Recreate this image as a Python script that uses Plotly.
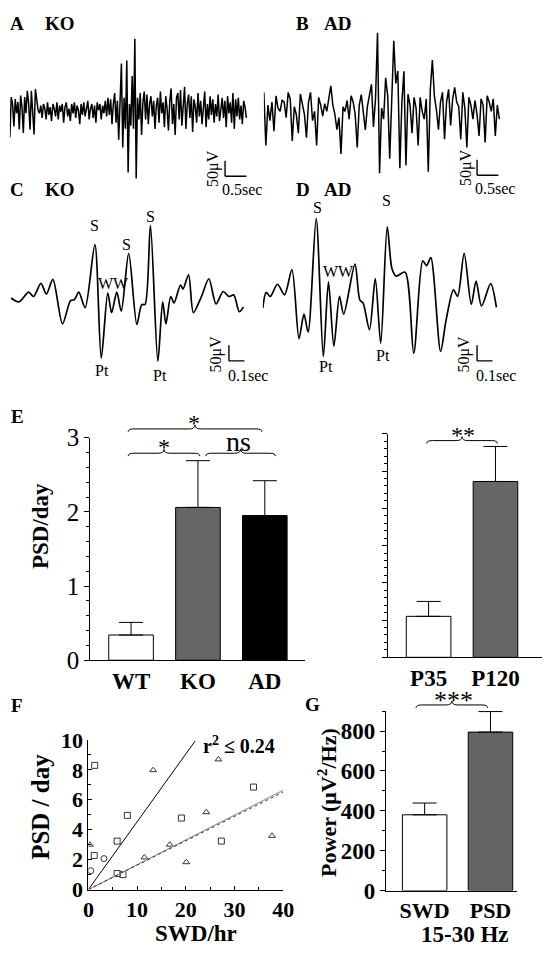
import numpy as np
import plotly.graph_objects as go

W, H = 553, 958
SERIF = "Liberation Serif, Times New Roman, serif"

# ---------------- data ----------------
TRACE_A_UV = [-88, 42, 20, -52, 36, -10, 26, -62, 47, 10, -73, 42, -10, 62, 20, -62, 62, -20, -78, 68, 30, 0, -10, 15,
              -25, 20, 5, -30, 25, -15, 10, -35, 20, 5,
              -20, 25, -30, 15, -5, 20, -40, 10, 25, -20, 5, -35, 20, -10, 25, -25, 15, 0, -45, 20, -15, 25, -20, 10,
              30, -30, 5, 20, -25, 15, -40, 25, 0, 20, -30, 15, -10, 30, -20, 40, -15, 35, -45, 20, 55,
              -40, 30, -95, 60, 150, -120, 40, -60, 160, -200, 20, -50, 110, -60, 230, -220, 40, -30, 55, -80, 25, 60,
              -30, 50, -45, 20, 45, -20, 30, -60, 15, 40, -40, 60, -10, 25, -55, 45, 5, -65, 30, 70, -45, 20, -80, 40,
              55, -30, 65, -50, 15, 75, -60, 20, 50, -25, 45, -70, 35, 10, -40, 55, -20, 30, -45, 25, 60, -55, 20, -30,
              45, -15, 35, -40, 20, -20, 50, -35, 15, 40, -25, 30, -55, 45, -10, 25, -40, 55, -60, 35, -20, 40, -30, 15,
              -45, 30, 10, -25]
TRACE_B_UV = [51, -120, 10, -40, 20, -74, 40, 0, -10, 25, 20, -30, 51, 30, -105, 5, -20, -80, 46, 10, -20, -95, 20, 51,
              -40, -10, -120, 35, 10, -25, 15, -10, 40, 72, 10, -20, -69, -30, -147, 5, -10, 25, -35, 40, 20, -20,
              -126, 10, 44, -20, -70, 5, 40, 77, -60, 30, 243, -209, 0, -35, 98, 40, -162, 60, 217, 80, 120, -193, 20,
              119, -183, 45, 10, -80, 35, 0, -120, 35, -10, -35, 30, -204, 60, 155, 40, -5, -69, 20, 51, -100, 20, 61,
              -55, 30, 67, 20, 5, -100, 51, 0, -126, 35, 10, -35, 25, -20, -89, 30, 10, -110, 40, 20, -10, 30, -89, 10,
              -35]
TRACE_C_T = [0, .052, .115, .146, .194, .229, .271, .333, .385, .41, .438, .479, .542, .583, .625, .65, .683, .712, .76,
             .8125, .844, .865, .9, .948, .979, 1.0, 1.031, 1.052, 1.094, 1.11, 1.146, 1.177, 1.229, 1.277, 1.323, 1.369,
             1.406, 1.4375, 1.473, 1.5]
TRACE_C_UV = [-1, -13, 18, 4, 46, 12, 59, -84, -9, -6, 18, -32, 171, -194, 15, -48, 18, -43, 143, -86, -22, -22, 233,
              -204, -13, -84, 4, -17, 41, 28, 74, -48, 4, 61, -20, 20, 4, 9, -45, -30]
TRACE_D_T = [0, .021, .048, .094, .14, .1875, .233, .265, .292, .344, .39, .423, .458, .494, .521, .594, .625, .646,
             .6875, .725, .76, .802, .833, .86, .917, .973, 1.031, 1.056, 1.083, 1.146, 1.181, 1.229, 1.256, 1.298, 1.344,
             1.375, 1.41, 1.469, 1.506]
TRACE_D_UV = [-42, 8, -5, 34, 0, 81, -141, -62, -120, 245, -198, 42, -165, -5, -62, 99, -16, -26, -112, 52, -156, 219,
              83, 60, 73, -188, 109, 94, 120, -182, -83, 16, -5, 133, -31, 44, -36, 36, -40]

E_GROUPS = ["WT", "KO", "AD"]
E_MEAN = [0.34, 2.06, 1.95]
E_SEM = [0.17, 0.63, 0.47]
E_COLORS = ["white", "#666666", "black"]

AGE_GROUPS = ["P35", "P120"]
AGE_MEAN = [0.55, 2.36]
AGE_SEM = [0.20, 0.47]
AGE_COLORS = ["white", "#666666"]

F_SQ_X = [1.3, 1.2, 5.9, 8.0, 5.9, 7.1, 19.1, 27.3, 33.9]
F_SQ_Y = [8.3, 2.28, 3.24, 4.96, 1.07, 1.0, 4.78, 3.24, 6.85]
F_TRI_X = [0.3, 13.3, 26.7, 24.2, 11.5, 16.7, 20.1, 37.7]
F_TRI_Y = [3.0, 7.98, 8.7, 5.17, 2.15, 3.0, 1.83, 3.59]
F_CIR_X = [0.5, 3.2]
F_CIR_Y = [1.26, 2.07]
FIT_X_END = [21.9, 40, 40]
FIT_SLOPE = [0.453, 0.166, 0.163]

G_GROUPS = ["SWD", "PSD"]
G_MEAN = [380, 795]
G_SEM = [59, 103]
G_COLORS = ["white", "#646464"]

# ---------------- helpers ----------------
PX_PER_UV = 16 / 50.0


def dx(a, b):
    return [a / W, b / W]


def dy(top, bot):
    return [1 - bot / H, 1 - top / H]


def px(x):
    return x / W


def py(y):
    return 1 - y / H


fig = go.Figure()
annotations = []
shapes = []


def ann(text, x, y, size, bold=False, angle=0, xanchor="center"):
    annotations.append(dict(text=text, x=px(x), y=py(y), xref="paper", yref="paper", showarrow=False,
                            xanchor=xanchor, yanchor="middle", textangle=angle, borderpad=0,
                            font=dict(family=SERIF, size=size, color="black", weight="bold" if bold else "normal")))


layout = dict(width=W, height=H, margin=dict(l=0, r=0, t=0, b=0), paper_bgcolor="white",
              plot_bgcolor="white", showlegend=False)

# ---- EEG traces ----
trace_panels = [
    (TRACE_A_UV, None, 4, 248, 252, 18, 180, 100, 44, (226, 168), 0.5),
    (TRACE_B_UV, None, 266, 509, 513, 12, 180, 98, 44, (486, 167), 0.5),
    (TRACE_C_UV, TRACE_C_T, 5, 246, 250, 190, 385, 293, 160, (230, 358), 0.1),
    (TRACE_D_UV, TRACE_D_T, 265, 506, 512, 185, 385, 290, 160, (486, 358), 0.1),
]
for i, (vals, times, x0, x1, x1d, ytop, ybot, base, pps, corner, bar_s) in enumerate(trace_panels, start=1):
    if times is None:
        times = np.linspace(0, (x1 - x0) / pps, len(vals))
        shape = "linear"
        lw = 1.5
    else:
        shape = "spline"
        lw = 1.7
    xa = "x" if i == 1 else f"x{i}"
    ya = "y" if i == 1 else f"y{i}"
    fig.add_trace(go.Scatter(x=list(times), y=vals, mode="lines", xaxis=xa, yaxis=ya,
                             line=dict(color="black", width=lw, shape=shape, smoothing=0.8)))
    layout[f"xaxis{'' if i == 1 else i}"] = dict(domain=dx(x0, x1d), range=[0, (x1d - x0) / pps], visible=False,
                                                   anchor=ya)
    layout[f"yaxis{'' if i == 1 else i}"] = dict(domain=dy(ytop, ybot),
                                                   range=[(base - ybot) / PX_PER_UV, (base - ytop) / PX_PER_UV],
                                                   visible=False, anchor=xa)
    ct = (corner[0] - x0) / pps
    cv = (base - corner[1]) / PX_PER_UV
    shapes.append(dict(type="line", xref=xa, yref=ya, x0=ct, x1=ct, y0=cv, y1=cv + 50,
                       line=dict(color="black", width=1.4)))
    shapes.append(dict(type="line", xref=xa, yref=ya, x0=ct, x1=ct + bar_s, y0=cv, y1=cv,
                       line=dict(color="black", width=1.4)))

# scale bar texts
for cx, cy in [(226, 168), (486, 167)]:
    ann("50μV", cx - 12, cy - 8, 16, angle=-90)
    ann("0.5sec", cx + 18, cy + 14, 16)
for cx, cy in [(230, 358), (486, 358)]:
    ann("50μV", cx - 13, cy - 7, 16, angle=-90)
    ann("0.1sec", cx + 20, cy + 15, 16)

# panel labels
ann("A", 3, 11, 19, bold=True, xanchor="left")
ann("KO", 39, 11, 19, bold=True, xanchor="left")
ann("B", 298, 11, 19, bold=True, xanchor="left")
ann("AD", 327, 11, 19, bold=True, xanchor="left")
ann("C", 3, 182, 19, bold=True, xanchor="left")
ann("KO", 39, 182, 19, bold=True, xanchor="left")
ann("D", 298, 182, 19, bold=True, xanchor="left")
ann("AD", 327, 182, 19, bold=True, xanchor="left")
ann("E", 4, 415, 19, bold=True, xanchor="left")
ann("F", 4, 713, 19, bold=True, xanchor="left")
ann("G", 307, 712, 19, bold=True, xanchor="left")

# waveform labels
for t, x, y in [("S", 91, 219), ("S", 124, 238), ("S", 149, 209), ("WW", 111, 278), ("Pt", 99, 368), ("Pt", 159, 373),
                ("S", 321, 200), ("S", 393, 193), ("WW", 343, 266), ("Pt", 330, 364), ("Pt", 389, 352)]:
    ann(t, x, y, 16)

# ---- E left bars ----
bar_axis_font = dict(family=SERIF, size=23, color="black", weight="bold")
fig.add_trace(go.Bar(x=E_GROUPS, y=E_MEAN, xaxis="x5", yaxis="y5", width=0.667,
                     marker=dict(color=E_COLORS, line=dict(color="black", width=1)),
                     error_y=dict(type="data", symmetric=False, array=E_SEM, arrayminus=[0] * len(E_SEM),
                                  color="black", thickness=1, width=12)))
layout["xaxis5"] = dict(domain=dx(87, 308), type="category", range=[-0.609, 2.594], anchor="y5", showline=True,
                        linecolor="black", linewidth=1, ticks="", tickfont=bar_axis_font, showgrid=False,
                        zeroline=False, fixedrange=True)
layout["yaxis5"] = dict(domain=dy(437, 666), range=[0, 3], anchor="x5", showline=True, linecolor="black",
                        linewidth=1, ticks="outside", ticklen=5, tickcolor="black", tickmode="linear", tick0=0,
                        dtick=1, tickfont=dict(family=SERIF, size=25, color="black"), showgrid=False,
                        zeroline=False, minor=dict(dtick=0.2, ticks="outside", ticklen=3, tickcolor="black"))
ann("PSD/day", 35, 528, 23, bold=True, angle=-90)

# ---- E right bars ----
fig.add_trace(go.Bar(x=AGE_GROUPS, y=AGE_MEAN, xaxis="x6", yaxis="y6", width=0.667,
                     marker=dict(color=AGE_COLORS, line=dict(color="black", width=1)),
                     error_y=dict(type="data", symmetric=False, array=AGE_SEM, arrayminus=[0] * len(AGE_SEM),
                                  color="black", thickness=1, width=12)))
layout["xaxis6"] = dict(domain=dx(394, 553), type="category", range=[-0.609, 1.696], anchor="y6", showline=True,
                        linecolor="black", linewidth=1, ticks="", tickfont=bar_axis_font, showgrid=False,
                        zeroline=False)
layout["yaxis6"] = dict(domain=dy(433, 663), range=[0, 3], anchor="x6", showline=True, linecolor="black",
                        linewidth=1, ticks="outside", ticklen=5, tickcolor="black", tickmode="linear", tick0=0,
                        dtick=0.5, showticklabels=False, showgrid=False, zeroline=False,
                        minor=dict(dtick=0.1, ticks="outside", ticklen=3, tickcolor="black"))

# ---- F scatter ----
mk = dict(color="#333333", size=6, line=dict(color="#333333", width=1))
fig.add_trace(go.Scatter(x=F_SQ_X, y=F_SQ_Y, mode="markers", xaxis="x7", yaxis="y7",
                         marker=dict(mk, symbol="square-open")))
fig.add_trace(go.Scatter(x=F_TRI_X, y=F_TRI_Y, mode="markers", xaxis="x7", yaxis="y7",
                         marker=dict(mk, symbol="triangle-up-open")))
fig.add_trace(go.Scatter(x=F_CIR_X, y=F_CIR_Y, mode="markers", xaxis="x7", yaxis="y7",
                         marker=dict(mk, symbol="circle-open")))
fit_styles = [dict(color="black", width=1), dict(color="#999999", width=1.2), dict(color="#333333", width=1, dash="dot")]
for xe, s, st in zip(FIT_X_END, FIT_SLOPE, fit_styles):
    fig.add_trace(go.Scatter(x=[0, xe], y=[0, s * xe], mode="lines", xaxis="x7", yaxis="y7", line=st))
layout["xaxis7"] = dict(domain=dx(85, 286), range=[0, 40], anchor="y7", showline=True, linecolor="black",
                        linewidth=1, ticks="inside", ticklen=4, tickcolor="black", tickmode="linear", tick0=0,
                        dtick=10, tickfont=dict(family=SERIF, size=22, color="black", weight="bold"),
                        showgrid=False, zeroline=False,
                        minor=dict(dtick=5, ticks="inside", ticklen=3, tickcolor="black"))
layout["yaxis7"] = dict(domain=dy(748, 902), range=[0, 10], anchor="x7", showline=True, linecolor="black",
                        linewidth=1, ticks="inside", ticklen=4, tickcolor="black", tickmode="linear", tick0=0,
                        dtick=2, tickfont=dict(family=SERIF, size=22, color="black", weight="bold"),
                        showgrid=False, zeroline=False,
                        minor=dict(dtick=1, ticks="inside", ticklen=3, tickcolor="black"))
ann("PSD / day", 36, 817, 25, bold=True, angle=-90)
ann("SWD/hr", 196, 947, 23, bold=True)
ann("r<sup>2</sup> ≤ 0.24", 240, 753, 20, bold=True)

# ---- G bars ----
fig.add_trace(go.Bar(x=G_GROUPS, y=G_MEAN, xaxis="x8", yaxis="y8", width=0.676,
                     marker=dict(color=G_COLORS, line=dict(color="black", width=1)),
                     error_y=dict(type="data", symmetric=False, array=G_SEM, arrayminus=[0] * len(G_SEM),
                                  color="black", thickness=1, width=12)))
layout["xaxis8"] = dict(domain=dx(392, 527), type="category", range=[-0.588, 1.40], anchor="y8", showline=True,
                        linecolor="black", linewidth=1, ticks="",
                        tickfont=dict(family=SERIF, size=22, color="black", weight="bold"),
                        showgrid=False, zeroline=False)
layout["yaxis8"] = dict(domain=dy(718, 903), range=[0, 902], anchor="x8", showline=True, linecolor="black",
                        linewidth=1, ticks="outside", ticklen=5, tickcolor="black", tickmode="linear", tick0=0,
                        dtick=200, tickfont=dict(family=SERIF, size=23, color="black", weight="bold"),
                        showgrid=False, zeroline=False,
                        minor=dict(dtick=100, ticks="outside", ticklen=3, tickcolor="black"))
ann("Power (μV<sup>2</sup>/Hz)", 331, 812, 22, bold=True, angle=-90)
ann("15-30 Hz", 474, 948, 23, bold=True)


# ---- significance braces ----
def brace(x0, x1, y):
    xm = (x0 + x1) / 2
    pts = [("M", [(x0, y + 3)]),
           ("Q", [(x0, y), (x0 + 6, y)]),
           ("L", [(xm - 6, y)]),
           ("Q", [(xm, y), (xm, y - 4)]),
           ("Q", [(xm, y), (xm + 6, y)]),
           ("L", [(x1 - 6, y)]),
           ("Q", [(x1, y), (x1, y + 3)])]
    path = " ".join(cmd + " " + " ".join(f"{px(a):.5f},{py(b):.5f}" for a, b in p) for cmd, p in pts)
    shapes.append(dict(type="path", path=path, xref="paper", yref="paper", line=dict(color="black", width=1)))


brace(126, 264, 428)
brace(126, 200, 453)
brace(206, 278, 453)
brace(434, 507, 440)
brace(423, 497, 712)
ann("*", 194, 422, 24)
ann("*", 163, 447, 24)
ann("ns", 240, 441, 28)
ann("**", 472, 434, 24)
ann("***", 462, 707, 26)

layout["annotations"] = annotations
layout["shapes"] = shapes
fig.update_layout(**layout)
fig.write_html("out.html", config={"displayModeBar": False},
               post_script="document.body.style.margin='0px';document.body.style.overflow='hidden';")
